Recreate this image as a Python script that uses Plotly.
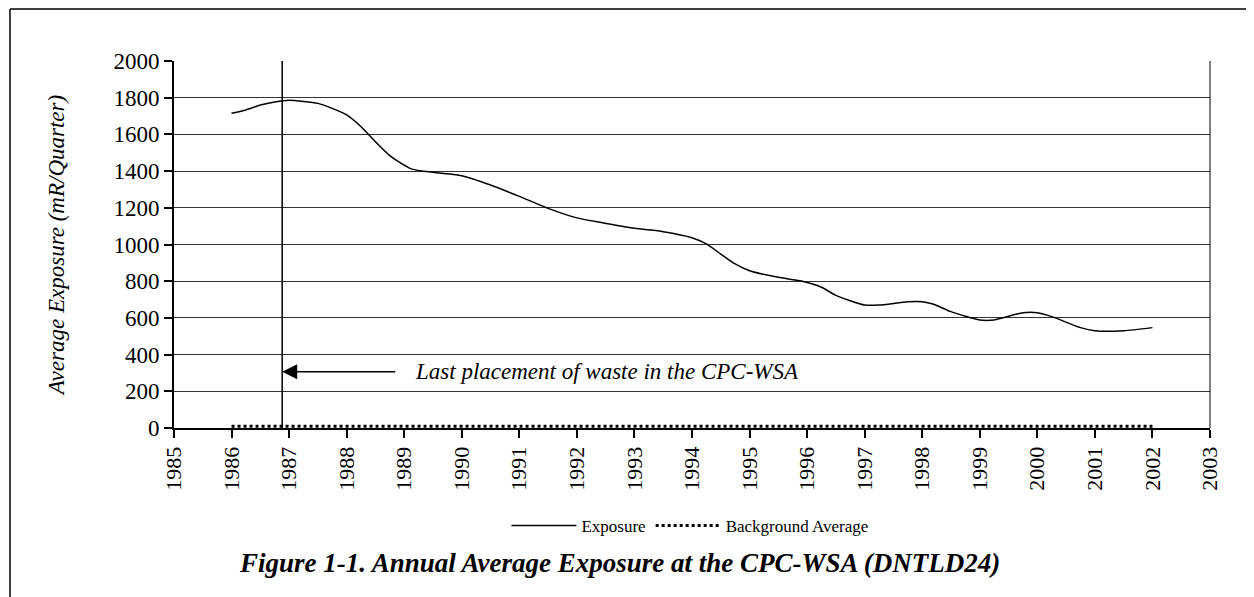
import plotly.graph_objects as go

# Exposure readings (mR/Quarter)
exp_years = [1986.0, 1986.25, 1986.5, 1986.75, 1987.0, 1987.5, 1987.75, 1988.0,
             1988.25, 1988.5, 1988.75, 1988.9, 1989.1, 1989.3, 1990.0, 1990.5,
             1991.0, 1991.5, 1992.0, 1992.4, 1993.0, 1993.5, 1994.0, 1994.25,
             1994.5, 1994.75, 1995.0, 1995.5, 1995.9, 1996.25, 1996.5, 1997.0,
             1997.25, 1997.75, 1998.0, 1998.2, 1998.5, 1999.0, 1999.25, 1999.75,
             2000.0, 2000.25, 2000.75, 2001.0, 2001.5, 2002.0]
exposure = [1715, 1733, 1760, 1777, 1786, 1769, 1742, 1706,
            1642, 1560, 1484, 1451, 1415, 1400, 1375, 1324,
            1262, 1197, 1145, 1121, 1088, 1070, 1037, 1003,
            948, 894, 857, 821, 801, 767, 723, 670,
            670, 688, 688, 674, 634, 589, 589, 628,
            628, 607, 547, 530, 530, 547]

bg_years = list(range(1986, 2003))
background = [10] * len(bg_years)

last_placement = 1986.88
arrow_level = 307

FONT = "Liberation Serif, Times New Roman, serif"

fig = go.Figure()
fig.add_trace(go.Scatter(x=exp_years, y=exposure, name="Exposure", mode="lines",
                         line=dict(color="black", width=1.5, shape="spline", smoothing=0.6)))
fig.add_trace(go.Scatter(x=bg_years, y=background, name="Background Average", mode="lines",
                         line=dict(color="black", width=3, dash="dot")))

# vertical marker at last waste placement
fig.add_shape(type="line", x0=last_placement, x1=last_placement, y0=0, y1=2000,
              xref="x", yref="y", line=dict(color="black", width=1.5))
# right border of plot area
fig.add_shape(type="line", x0=1, x1=1, y0=0, y1=1, xref="paper", yref="paper",
              line=dict(color="black", width=1))
# page frame (left and top)
fig.add_shape(type="line", x0=-0.1583, x1=-0.1583, y0=1.1417, y1=-0.47,
              xref="paper", yref="paper", line=dict(color="black", width=1.5))
fig.add_shape(type="line", x0=-0.1583, x1=1.05, y0=1.1417, y1=1.1417,
              xref="paper", yref="paper", line=dict(color="black", width=1.5))

fig.add_annotation(x=last_placement, y=arrow_level, ax=1988.87, ay=arrow_level,
                   xref="x", yref="y", axref="x", ayref="y", text="",
                   showarrow=True, arrowhead=2, arrowsize=2, arrowwidth=1.5,
                   arrowcolor="black", standoff=0)
fig.add_annotation(x=1989.15, y=arrow_level, xref="x", yref="y", xanchor="left",
                   text="<i>Last placement of waste in the CPC-WSA</i>", showarrow=False,
                   font=dict(family=FONT, size=23, color="black"))
fig.add_annotation(x=0.43, y=-0.415, xref="paper", yref="paper",
                   text="<b><i>Figure 1-1. Annual Average Exposure at the CPC-WSA (DNTLD24)</i></b>",
                   showarrow=False, font=dict(family=FONT, size=27, color="black"))

fig.update_layout(
    width=1246, height=589,
    margin=dict(l=166, r=44, t=53, b=169),
    paper_bgcolor="white", plot_bgcolor="white",
    font=dict(family=FONT, color="black"),
    showlegend=True,
    legend=dict(orientation="h", x=0.498, y=-0.267, xanchor="center", yanchor="middle",
                itemwidth=65, font=dict(family=FONT, size=17, color="black")),
)
fig.update_xaxes(range=[1985, 2003], dtick=1, tickangle=-90, showgrid=False,
                 showline=True, linecolor="black", linewidth=2,
                 ticks="outside", ticklen=8, tickwidth=1.5, tickcolor="black",
                 tickfont=dict(family=FONT, size=22, color="black"), zeroline=False)
fig.update_yaxes(range=[0, 2000], dtick=200, showgrid=True, gridcolor="#333333", gridwidth=1,
                 showline=True, linecolor="black", linewidth=2,
                 ticks="outside", ticklen=8, tickwidth=1.5, tickcolor="black",
                 tickfont=dict(family=FONT, size=23, color="black"), zeroline=False,
                 title=dict(text="<i>Average Exposure (mR/Quarter)</i>", standoff=42,
                            font=dict(family=FONT, size=23, color="black")))

fig.write_html("out.html")
